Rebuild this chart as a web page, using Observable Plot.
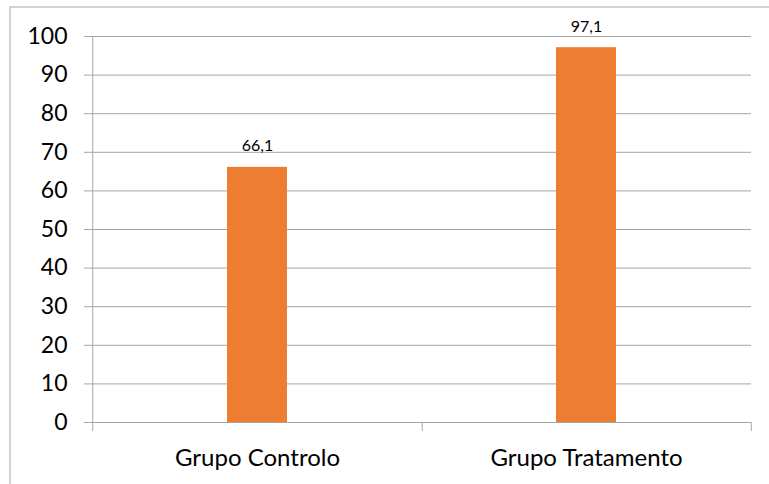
<!DOCTYPE html>
<html>
<head>
<meta charset="utf-8">
<script src="https://cdn.jsdelivr.net/npm/d3@7"></script>
<script src="https://cdn.jsdelivr.net/npm/@observablehq/plot@0.6"></script>
<style>
  html, body { margin: 0; padding: 0; background: #fff; }
  #wrap { position: relative; width: 769px; height: 484px; overflow: hidden; }
</style>
</head>
<body>
<div id="wrap"></div>
<script>
const categories = ["Grupo Controlo", "Grupo Tratamento"];
const values = [66.1, 97.1];
const yTicks = [0, 10, 20, 30, 40, 50, 60, 70, 80, 90, 100];

const data = categories.map((c, i) => ({category: c, value: values[i]}));

const W = 769, H = 484;
const mL = 92, mR = 18, mT = 36, mB = 62;
const step = (W - mL - mR) / categories.length;
const pInner = 0.818;
const grid = "#a6a6a6";
const font = "Lato, 'Open Sans', sans-serif";

const chart = Plot.plot({
  width: W,
  height: H,
  marginLeft: mL,
  marginRight: mR,
  marginTop: mT,
  marginBottom: mB,
  style: {fontFamily: font, background: "transparent", display: "block"},
  x: {domain: categories, paddingInner: pInner, paddingOuter: pInner / 2, axis: null, label: null},
  y: {domain: [0, 100], axis: null, label: null},
  marks: [
    Plot.frame({stroke: grid, strokeOpacity: 1, insetLeft: -(mL - 9.5), insetTop: -(mT - 6.5), insetRight: -40, insetBottom: -(mB + 20)}),
    Plot.ruleY(yTicks, {y: d => d, stroke: grid, strokeWidth: 1, strokeOpacity: 1, insetLeft: -8}),
    Plot.ruleX(categories.slice(0, 1), {x: d => d, dx: -step / 2, stroke: grid, strokeOpacity: 1, insetBottom: -9}),
    Plot.ruleX(categories, {x: d => d, dx: step / 2, y1: 0, y2: 0, stroke: grid, strokeOpacity: 1, insetBottom: -9}),
    Plot.barY(data, {x: "category", y: "value", fill: "#ED7D31"}),
    Plot.text(data, {x: "category", y: "value", text: d => d.value.toFixed(1).replace(".", ","), dy: -16, lineAnchor: "bottom", fontSize: 16, fill: "#000"}),
    Plot.axisY({ticks: yTicks, tickSize: 0, tickPadding: 25, fontSize: 23, tickFormat: d => String(d), label: null, fill: "#000"}),
    Plot.axisX({tickSize: 0, tickPadding: 26, fontSize: 24, label: null, fill: "#000"})
  ]
});
document.getElementById("wrap").append(chart);
</script>
</body>
</html>
